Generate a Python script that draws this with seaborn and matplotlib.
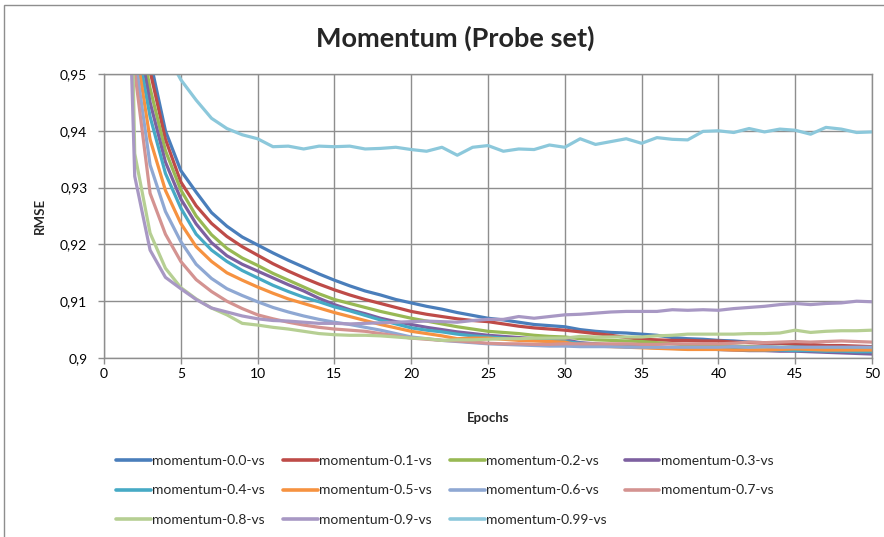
import matplotlib
matplotlib.use("Agg")
import matplotlib.pyplot as plt
import pandas as pd
import seaborn as sns
from matplotlib.patches import Rectangle

# ---------------- data ----------------
epochs = list(range(1, 51))

series_names = ["momentum-0.0-vs", "momentum-0.1-vs", "momentum-0.2-vs", "momentum-0.3-vs",
                "momentum-0.4-vs", "momentum-0.5-vs", "momentum-0.6-vs", "momentum-0.7-vs",
                "momentum-0.8-vs", "momentum-0.9-vs", "momentum-0.99-vs"]

rmse_m00 = [1.05, 0.985, 0.9525, 0.940, 0.933, 0.9292, 0.9256, 0.9232, 0.9213, 0.9199,
            0.9185, 0.9172, 0.9160, 0.9148, 0.9137, 0.9127, 0.9118, 0.9111, 0.9103, 0.9097,
            0.9091, 0.9086, 0.9080, 0.9075, 0.9070, 0.9067, 0.9063, 0.9059, 0.9057, 0.9055,
            0.9050, 0.9047, 0.9045, 0.9044, 0.9042, 0.9040, 0.9036, 0.9034, 0.9033, 0.9031,
            0.9030, 0.9028, 0.9027, 0.9026, 0.9024, 0.9022, 0.9021, 0.9020, 0.9019, 0.9017]
rmse_m01 = [1.04, 0.980, 0.9505, 0.9385, 0.931, 0.9268, 0.9237, 0.9214, 0.9196, 0.9181,
            0.9166, 0.9153, 0.9141, 0.9130, 0.9120, 0.9111, 0.9103, 0.9096, 0.9089, 0.9082,
            0.9077, 0.9073, 0.9069, 0.9066, 0.9064, 0.9060, 0.9056, 0.9053, 0.9051, 0.9049,
            0.9046, 0.9043, 0.9040, 0.9036, 0.9033, 0.9032, 0.9031, 0.9031, 0.9030, 0.9030,
            0.9028, 0.9027, 0.9026, 0.9026, 0.9025, 0.9024, 0.9022, 0.9022, 0.9021, 0.9020]
rmse_m02 = [1.03, 0.9611, 0.9475, 0.9365, 0.9296, 0.9250, 0.9217, 0.9193, 0.9176, 0.9163,
            0.9149, 0.9137, 0.9125, 0.9113, 0.9103, 0.9096, 0.9089, 0.9082, 0.9076, 0.9070,
            0.9065, 0.9060, 0.9055, 0.9051, 0.9047, 0.9045, 0.9043, 0.9040, 0.9038, 0.9037,
            0.9034, 0.9032, 0.9031, 0.9030, 0.9029, 0.9027, 0.9025, 0.9023, 0.9022, 0.9021,
            0.9021, 0.9020, 0.9020, 0.9019, 0.9019, 0.9018, 0.9018, 0.9018, 0.9017, 0.9017]
rmse_m03 = [1.02, 0.9602, 0.9450, 0.9345, 0.9280, 0.9236, 0.9203, 0.9180, 0.9165, 0.9153,
            0.9141, 0.9129, 0.9118, 0.9105, 0.9094, 0.9085, 0.9078, 0.9070, 0.9064, 0.9059,
            0.9054, 0.9050, 0.9046, 0.9043, 0.9040, 0.9038, 0.9036, 0.9034, 0.9033, 0.9032,
            0.9027, 0.9025, 0.9023, 0.9021, 0.9020, 0.9019, 0.9018, 0.9017, 0.9016, 0.9015,
            0.9014, 0.9013, 0.9013, 0.9012, 0.9012, 0.9011, 0.9010, 0.9009, 0.9008, 0.9007]
rmse_m04 = [1.01, 0.9572, 0.9425, 0.9325, 0.9264, 0.9218, 0.9190, 0.9170, 0.9154, 0.9141,
            0.9128, 0.9117, 0.9107, 0.9099, 0.9090, 0.9083, 0.9075, 0.9067, 0.9060, 0.9053,
            0.9049, 0.9046, 0.9042, 0.9039, 0.9037, 0.9035, 0.9033, 0.9031, 0.9030, 0.9029,
            0.9026, 0.9024, 0.9022, 0.9020, 0.9019, 0.9018, 0.9017, 0.9016, 0.9016, 0.9015,
            0.9015, 0.9014, 0.9014, 0.9014, 0.9013, 0.9013, 0.9012, 0.9012, 0.9011, 0.9011]
rmse_m05 = [1.00, 0.9559, 0.9385, 0.9295, 0.9237, 0.9196, 0.9170, 0.9150, 0.9137, 0.9125,
            0.9114, 0.9104, 0.9096, 0.9088, 0.9080, 0.9073, 0.9066, 0.9059, 0.9053, 0.9047,
            0.9043, 0.9039, 0.9034, 0.9035, 0.9035, 0.9033, 0.9031, 0.9030, 0.9029, 0.9028,
            0.9022, 0.9021, 0.9020, 0.9019, 0.9018, 0.9017, 0.9016, 0.9015, 0.9015, 0.9015,
            0.9014, 0.9014, 0.9014, 0.9015, 0.9016, 0.9015, 0.9014, 0.9014, 0.9014, 0.9014]
rmse_m06 = [0.99, 0.9533, 0.9340, 0.9258, 0.9205, 0.9165, 0.9140, 0.9122, 0.9110, 0.9099,
            0.9089, 0.9081, 0.9074, 0.9068, 0.9063, 0.9059, 0.9054, 0.9049, 0.9043, 0.9037,
            0.9034, 0.9031, 0.9029, 0.9027, 0.9025, 0.9024, 0.9023, 0.9022, 0.9021, 0.9021,
            0.9020, 0.9020, 0.9020, 0.9019, 0.9019, 0.9019, 0.9019, 0.9019, 0.9019, 0.9019,
            0.9020, 0.9019, 0.9020, 0.9019, 0.9019, 0.9019, 0.9019, 0.9019, 0.9019, 0.9019]
rmse_m07 = [0.985, 0.9505, 0.9290, 0.9218, 0.9170, 0.9138, 0.9117, 0.9100, 0.9087, 0.9076,
            0.9069, 0.9063, 0.9058, 0.9054, 0.9051, 0.9049, 0.9047, 0.9043, 0.9039, 0.9035,
            0.9033, 0.9031, 0.9030, 0.9028, 0.9026, 0.9025, 0.9025, 0.9024, 0.9024, 0.9025,
            0.9025, 0.9025, 0.9025, 0.9025, 0.9024, 0.9024, 0.9025, 0.9025, 0.9025, 0.9025,
            0.9026, 0.9028, 0.9027, 0.9028, 0.9029, 0.9028, 0.9029, 0.9030, 0.9029, 0.9028]
rmse_m08 = [1.076, 0.936, 0.9220, 0.9158, 0.9124, 0.9104, 0.9088, 0.9076, 0.9061, 0.9058,
            0.9054, 0.9051, 0.9047, 0.9043, 0.9041, 0.9040, 0.9040, 0.9039, 0.9037, 0.9035,
            0.9034, 0.9031, 0.9032, 0.9032, 0.9033, 0.9034, 0.9034, 0.9035, 0.9035, 0.9035,
            0.9038, 0.9037, 0.9037, 0.9037, 0.9037, 0.9039, 0.9040, 0.9042, 0.9042, 0.9042,
            0.9042, 0.9043, 0.9043, 0.9044, 0.9049, 0.9045, 0.9047, 0.9048, 0.9048, 0.9049]
rmse_m09 = [1.022, 0.932, 0.9190, 0.9142, 0.9122, 0.9103, 0.9088, 0.9081, 0.9074, 0.9069,
            0.9066, 0.9065, 0.9063, 0.9061, 0.9061, 0.9060, 0.9061, 0.9062, 0.9063, 0.9064,
            0.9065, 0.9064, 0.9063, 0.9066, 0.9068, 0.9068, 0.9073, 0.9070, 0.9073, 0.9076,
            0.9077, 0.9079, 0.9081, 0.9082, 0.9082, 0.9082, 0.9085, 0.9084, 0.9085, 0.9084,
            0.9087, 0.9089, 0.9091, 0.9094, 0.9096, 0.9094, 0.9096, 0.9097, 0.9100, 0.9099]
rmse_m099 = [1.10, 1.02, 0.98, 0.954, 0.9490, 0.9454, 0.9422, 0.9404, 0.9393, 0.9386,
             0.9372, 0.9373, 0.9368, 0.9373, 0.9372, 0.9373, 0.9368, 0.9369, 0.9371, 0.9367,
             0.9364, 0.9371, 0.9357, 0.9371, 0.9374, 0.9364, 0.9368, 0.9367, 0.9375, 0.9371,
             0.9386, 0.9376, 0.9381, 0.9386, 0.9378, 0.9388, 0.9385, 0.9384, 0.9399, 0.9400,
             0.9397, 0.9404, 0.9398, 0.9403, 0.9401, 0.9394, 0.9406, 0.9403, 0.9397, 0.9398]

all_series = [rmse_m00, rmse_m01, rmse_m02, rmse_m03, rmse_m04, rmse_m05,
              rmse_m06, rmse_m07, rmse_m08, rmse_m09, rmse_m099]

x_ticks = [0, 5, 10, 15, 20, 25, 30, 35, 40, 45, 50]
x_tick_labels = ["0", "5", "10", "15", "20", "25", "30", "35", "40", "45", "50"]
y_ticks = [0.90, 0.91, 0.92, 0.93, 0.94, 0.95]
y_tick_labels = ["0,9", "0,91", "0,92", "0,93", "0,94", "0,95"]

title_text = "Momentum (Probe set)"
x_label = "Epochs"
y_label = "RMSE"

# ---------------- style ----------------
colors = ["#4A7EBB", "#BE4B48", "#98B954", "#7D60A0", "#46AAC5", "#F69240",
          "#8FA8D3", "#D49391", "#B6CF93", "#A898C4", "#8CC8DB"]

sns.set_theme(style="white")
plt.rcParams["font.family"] = ["Lato", "DejaVu Sans"]

df = pd.DataFrame({
    "epoch": epochs * len(series_names),
    "rmse": [v for s in all_series for v in s],
    "series": [n for n in series_names for _ in epochs],
})

W, H = 884, 537
fig = plt.figure(figsize=(W / 100, H / 100), dpi=100)
ax = fig.add_axes([104 / W, 1 - 358 / H, 768 / W, 284 / H])

sns.lineplot(data=df, x="epoch", y="rmse", hue="series", hue_order=series_names,
             palette=colors, linewidth=2.3, ax=ax, sort=False, estimator=None,
             solid_capstyle="round", solid_joinstyle="round")

ax.set_xlim(0, 50)
ax.set_ylim(0.90, 0.95)
ax.set_xticks(x_ticks)
ax.set_xticklabels(x_tick_labels)
ax.set_yticks(y_ticks)
ax.set_yticklabels(y_tick_labels)

grid_col = "#8E8E8E"
ax.grid(True, color=grid_col, linewidth=1.0)
ax.set_axisbelow(True)
for sp in ax.spines.values():
    sp.set_color(grid_col)
    sp.set_linewidth(1.0)
ax.tick_params(axis="both", which="major", bottom=True, left=True, length=4,
               width=1, color=grid_col, labelsize=10, labelcolor="#000000")
ax.tick_params(axis="y", pad=8)
ax.tick_params(axis="x", pad=3)

ax.set_xlabel(x_label, fontsize=9.5, fontweight="bold")
ax.set_ylabel(y_label, fontsize=9.5, fontweight="bold")
ax.xaxis.set_label_coords(0.5, (358 - 412) / 284)
ax.yaxis.set_label_coords((46 - 104) / 768, 0.5)

fig.text(455 / W, 1 - 38 / H, title_text, ha="center", va="center",
         fontsize=19.5, fontweight="bold")

handles, labels = ax.get_legend_handles_labels()
ax.get_legend().remove()
order = [0, 4, 8, 1, 5, 9, 2, 6, 10, 3, 7]
leg = fig.legend([handles[i] for i in order], [labels[i] for i in order],
                 ncol=4, loc="upper left", bbox_to_anchor=(116 / W, 1 - 455 / H),
                 frameon=False, fontsize=10, handlelength=2.5, handletextpad=0.1,
                 columnspacing=1.3, labelspacing=1.25, borderpad=0, borderaxespad=0)
for lh in leg.get_lines():
    lh.set_linewidth(2.6)

fig.patches.append(Rectangle((4 / W, -0.05), 1.2, 1.05 - 5 / H, transform=fig.transFigure,
                             fill=False, edgecolor="#8E8E8E", linewidth=1.0))

fig.savefig("out.png", dpi=100)
